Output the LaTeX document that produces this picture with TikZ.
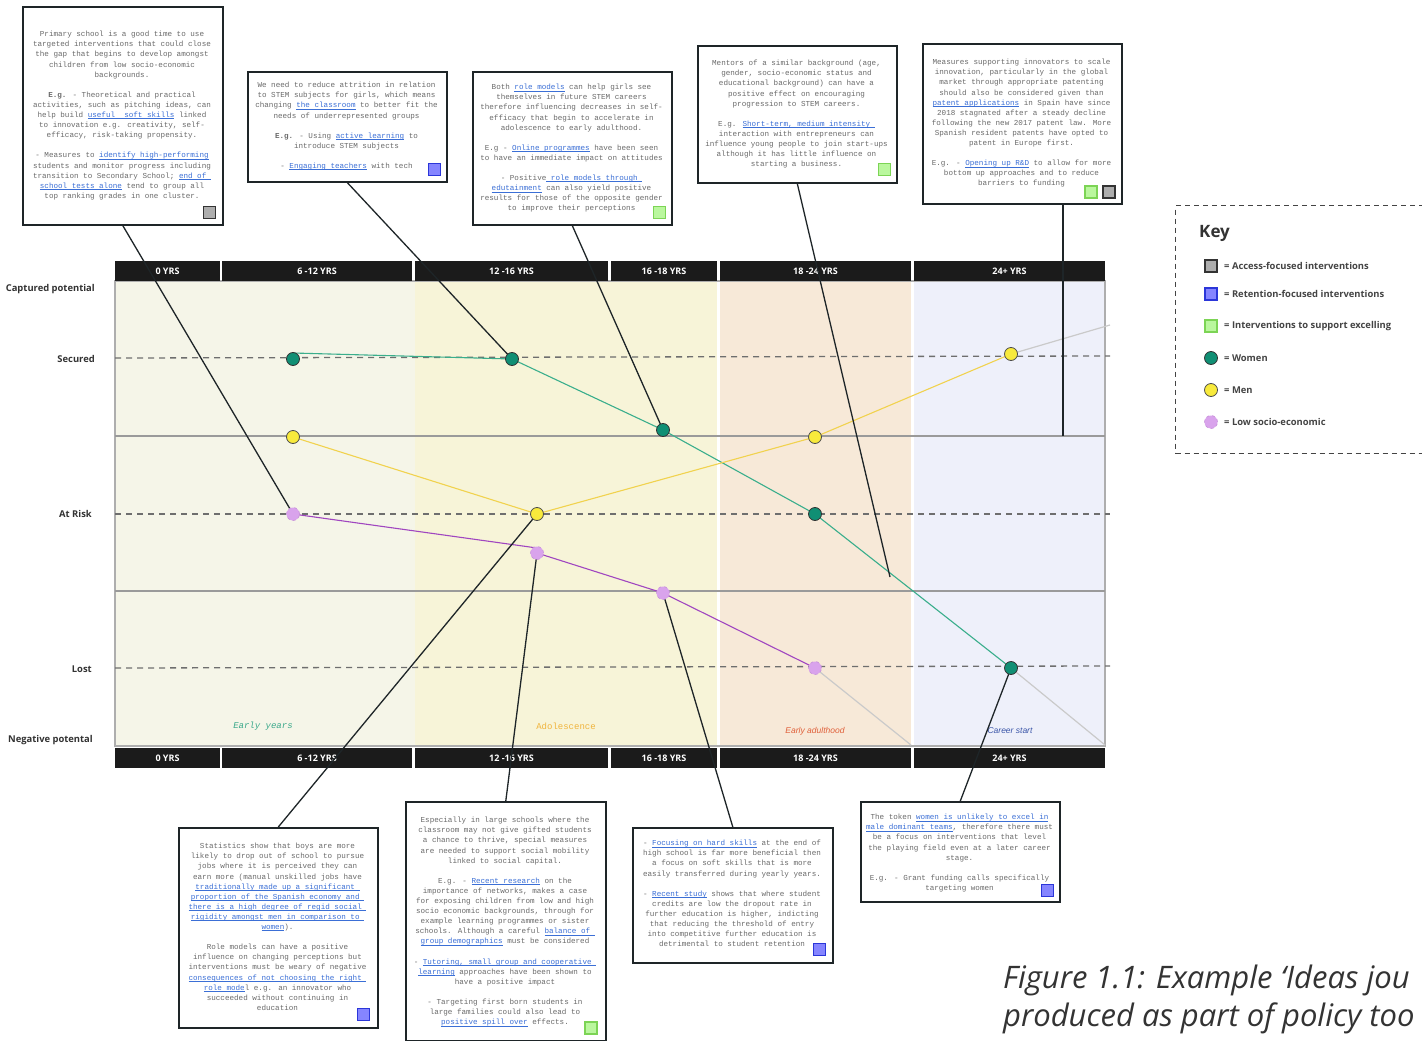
\documentclass[tikz,border=0pt]{standalone}
\usepackage{fontspec}
\setmainfont{Open Sans}
\newfontfamily\monof{Liberation Mono}
\newfontfamily\sanf{Open Sans}
\newfontfamily\narf{Liberation Sans}
\definecolor{boxline}{HTML}{1E2528}
\definecolor{txtgray}{HTML}{6A6A6A}
\definecolor{linkblue}{HTML}{3B6FD6}
\definecolor{hdrblack}{HTML}{1B1B1B}
\definecolor{zoneA}{HTML}{F5F5E8}
\definecolor{zoneB}{HTML}{F7F4D8}
\definecolor{zoneC}{HTML}{F7E9D8}
\definecolor{zoneD}{HTML}{EEF0FA}
\definecolor{gridgray}{HTML}{9A9A9A}
\definecolor{dashgray}{HTML}{6E6E6E}
\definecolor{womencol}{HTML}{108F74}
\definecolor{womenline}{HTML}{3AAE8C}
\definecolor{mencol}{HTML}{F8EA3C}
\definecolor{menline}{HTML}{F1D24E}
\definecolor{lowcol}{HTML}{D9A3EC}
\definecolor{lowline}{HTML}{A046C0}
\definecolor{fadeline}{HTML}{CACACA}
\definecolor{sqgrayf}{HTML}{ADADAD}
\definecolor{sqgrayd}{HTML}{333333}
\definecolor{sqbluef}{HTML}{8585FF}
\definecolor{sqblued}{HTML}{2B36D9}
\definecolor{sqgreenf}{HTML}{BAF79E}
\definecolor{sqgreend}{HTML}{7CD455}
\definecolor{lblcol}{HTML}{333333}
\definecolor{earlycol}{HTML}{3AA88A}
\definecolor{adolcol}{HTML}{F0B43C}
\definecolor{adultcol}{HTML}{E0603A}
\definecolor{careercol}{HTML}{3A55A8}
\definecolor{keycol}{HTML}{444444}
\newcommand\lnk[1]{\textcolor{linkblue}{\setbox0\hbox{#1}\rlap{\rule[-1.3pt]{\wd0}{0.5pt}}\box0}}
\newcommand\boxfont{\monof\fontsize{7.6}{10.1}\selectfont}
\tikzset{
  tbox/.style={draw=boxline, line width=1.6pt, fill=white, anchor=north west, inner sep=0},
  ttext/.style={font=\boxfont, text=txtgray, align=center, anchor=north, inner sep=0},
  sqg/.style={draw=sqgrayd, fill=sqgrayf, line width=1.3pt, minimum size=12pt, inner sep=0},
  sqb/.style={draw=sqblued, fill=sqbluef, line width=1.3pt, minimum size=12pt, inner sep=0},
  sqn/.style={draw=sqgreend, fill=sqgreenf, line width=1.3pt, minimum size=12pt, inner sep=0},
  hdr/.style={fill=hdrblack, text=white, font=\sanf\bfseries\fontsize{9}{10}\selectfont, minimum height=20pt, inner sep=0},
  lbl/.style={anchor=east, text=lblcol, font=\sanf\bfseries\fontsize{9.4}{11}\selectfont, inner sep=0},
  wdot/.style={circle, draw=black!80, fill=womencol, line width=0.8pt, minimum size=13pt, inner sep=0},
  mdot/.style={circle, draw=black!70, fill=mencol, line width=0.8pt, minimum size=13pt, inner sep=0},
  ldot/.style={circle, draw=lowline!60, dashed, fill=lowcol, line width=0.6pt, minimum size=13pt, inner sep=0},
  callout/.style={draw=boxline, line width=1.3pt},
  keytxt/.style={anchor=west, text=keycol, font=\sanf\bfseries\fontsize{9.4}{11}\selectfont, inner sep=0},
}
\begin{document}
\begin{tikzpicture}[x=1pt, y=-1pt]
\useasboundingbox (0,0) rectangle (1422,1041);
\clip (0,0) rectangle (1422,1041);
\fill[white] (0,0) rectangle (1422,1041);

% zones
\fill[zoneA] (115,281) rectangle (415,746);
\fill[zoneB] (415,281) rectangle (717,746);
\fill[zoneC] (720,281) rectangle (911,746);
\fill[zoneD] (914,281) rectangle (1105,746);
\draw[gridgray!80, line width=1.4pt] (115,281) rectangle (1105,746);

% grid
\draw[gridgray, line width=1.3pt] (115,436) -- (1105,436);
\draw[gridgray, line width=1.3pt] (115,591) -- (1105,591);
\draw[dashgray, line width=1.3pt, dash pattern=on 6pt off 5pt] (115,358) -- (1110,356);
\draw[dashgray, line width=1.3pt, dash pattern=on 6pt off 5pt] (115,514) -- (1110,514);
\draw[dashgray, line width=1.3pt, dash pattern=on 6pt off 5pt] (115,668) -- (1110,666);

% left labels
\node[lbl] (lcap) at (95,289) {Captured potential};
\node[lbl] (lsec) at (95,359) {Secured};
\node[lbl] (lrisk) at (92,514) {At Risk};
\node[lbl] (llost) at (92,669) {Lost};
\node[lbl] (lneg) at (93,740) {Negative potental};

% zone labels
\node[text=earlycol, font=\monof\itshape\fontsize{9}{10}\selectfont] (zA) at (263,726) {Early years};
\node[text=adolcol, font=\monof\fontsize{9}{10}\selectfont] (zB) at (566,726) {Adolescence};
\node[text=adultcol, font=\narf\itshape\fontsize{8.5}{10}\selectfont] (zC) at (815,731) {Early adulthood};
\node[text=careercol, font=\narf\itshape\fontsize{8.5}{10}\selectfont] (zD) at (1010,731) {Career start};

% headers
\node[hdr, minimum width=105pt] (ht1) at (167.5,271) {0 YRS};
\node[hdr, minimum width=190pt] (ht2) at (317,271) {6 -12 YRS};
\node[hdr, minimum width=193pt] (ht3) at (511.5,271) {12 -16 YRS};
\node[hdr, minimum width=106pt] (ht4) at (664,271) {16 -18 YRS};
\node[hdr, minimum width=191pt] (ht5) at (815.5,271) {18 -24 YRS};
\node[hdr, minimum width=191pt] (ht6) at (1009.5,271) {24+ YRS};
\node[hdr, minimum width=105pt] (hb1) at (167.5,758) {0 YRS};
\node[hdr, minimum width=190pt] (hb2) at (317,758) {6 -12 YRS};
\node[hdr, minimum width=193pt] (hb3) at (511.5,758) {12 -16 YRS};
\node[hdr, minimum width=106pt] (hb4) at (664,758) {16 -18 YRS};
\node[hdr, minimum width=191pt] (hb5) at (815.5,758) {18 -24 YRS};
\node[hdr, minimum width=191pt] (hb6) at (1009.5,758) {24+ YRS};

% dot coordinates
\coordinate (w1) at (293,359);
\coordinate (w2) at (512,359);
\coordinate (w3) at (663,430);
\coordinate (w4) at (815,514);
\coordinate (w5) at (1011,668);
\coordinate (m1) at (293,437);
\coordinate (m2) at (537,514);
\coordinate (m3) at (815,437);
\coordinate (m4) at (1011,354);
\coordinate (p1) at (293,514);
\coordinate (p2) at (537,553);
\coordinate (p3) at (663,593);
\coordinate (p4) at (815,668);
\coordinate (wend) at (1105,745);
\coordinate (mend) at (1110,325);
\coordinate (pend) at (911,745);

% trajectories
\draw[fadeline, line width=1.2pt] (w5) -- (wend);
\draw[fadeline, line width=1.2pt] (m4) -- (mend);
\draw[fadeline, line width=1.2pt] (p4) -- (pend);
\draw[womenline, line width=1.1pt] (293,353) -- (w2) -- (w3) -- (w4) -- (w5);
\draw[menline, line width=1.1pt] (m1) -- (m2) -- (m3) -- (m4);
\draw[lowline, line width=1.1pt] (p1) -- (537,548) -- (p2) -- (p3) -- (p4);

% text boxes
\node[tbox, minimum width=200pt, minimum height=218pt] (b1) at (22,6) {};
\node[tbox, minimum width=199pt, minimum height=110pt] (b2) at (247,71) {};
\node[tbox, minimum width=199pt, minimum height=153pt] (b3) at (472,71) {};
\node[tbox, minimum width=199pt, minimum height=137pt] (b4) at (697,45) {};
\node[tbox, minimum width=199pt, minimum height=160pt] (b5) at (922,43) {};
\node[tbox, minimum width=199pt, minimum height=200pt] (b6) at (178,827) {};
\node[tbox, minimum width=200pt, minimum height=239pt] (b7) at (405,801) {};
\node[tbox, minimum width=200pt, minimum height=135pt] (b8) at (632,827) {};
\node[tbox, minimum width=199pt, minimum height=100pt] (b9) at (860,801) {};

% callouts
\coordinate (c4) at (890,577);
\coordinate (c5) at (1063,436);
\draw[callout] (b1.south) -- (p1);
\draw[callout] (b2.south) -- (w2);
\draw[callout] (b3.south) -- (w3);
\draw[callout] (b4.south) -- (c4);
\draw[callout] (b5.south -| c5) -- (c5);
\draw[callout] (b6.north) -- (m2);
\draw[callout] (b7.north) -- (p2);
\draw[callout] (b8.north) -- (p3);
\draw[callout] (b9.north) -- (w5);

% dots
\node[wdot] (nw1) at (w1) {};
\node[wdot] (nw2) at (w2) {};
\node[wdot] (nw3) at (w3) {};
\node[wdot] (nw4) at (w4) {};
\node[wdot] (nw5) at (w5) {};
\node[mdot] (nm1) at (m1) {};
\node[mdot] (nm2) at (m2) {};
\node[mdot] (nm3) at (m3) {};
\node[mdot] (nm4) at (m4) {};
\node[ldot] (np1) at (p1) {};
\node[ldot] (np2) at (p2) {};
\node[ldot] (np3) at (p3) {};
\node[ldot] (np4) at (p4) {};

% box texts
\node[ttext] (t1) at (122,31) {Primary school is a good time to use\\
targeted interventions that could close\\
the gap that begins to develop amongst\\
children from low socio-economic\\
backgrounds.\\[10.1pt]
\textbf{E.g.} - Theoretical and practical\\
activities, such as pitching ideas, can\\
help build \lnk{useful\ \ soft skills} linked\\
to innovation e.g. creativity, self-\\
efficacy, risk-taking propensity.\\[10.1pt]
- Measures to \lnk{identify high-performing}\\
students and monitor progress including\\
transition to Secondary School; \lnk{end of }\\
\lnk{school tests alone} tend to group all\\
top ranking grades in one cluster.};
\node[sqg] (s1) at (209.5,212.5) {};

\node[ttext] (t2) at (346.5,82) {We need to reduce attrition in relation\\
to STEM subjects for girls, which means\\
changing \lnk{the classroom} to better fit the\\
needs of underrepresented groups\\[10.1pt]
\textbf{E.g.} - Using \lnk{active learning} to\\
introduce STEM subjects\\[10.1pt]
- \lnk{Engaging teachers} with tech};
\node[sqb] (s2) at (434.5,169.5) {};

\node[ttext] (t3) at (571.5,84) {Both \lnk{role models} can help girls see\\
themselves in future STEM careers\\
therefore influencing decreases in self-\\
efficacy that begin to accelerate in\\
adolescence to early adulthood.\\[10.1pt]
E.g - \lnk{Online programmes} have been seen\\
to have an immediate impact on attitudes\\[10.1pt]
- Positive\lnk{ role models through }\\
\lnk{edutainment} can also yield positive\\
results for those of the opposite gender\\
to improve their perceptions};
\node[sqn] (s3) at (659.5,212.5) {};

\node[ttext] (t4) at (796.5,60) {Mentors of a similar background (age,\\
gender, socio-economic status and\\
educational background) can have a\\
positive effect on encouraging\\
progression to STEM careers.\\[10.1pt]
E.g. \lnk{Short-term, medium intensity }\\
interaction with entrepreneurs can\\
influence young people to join start-ups\\
although it has little influence on\\
starting a business.};
\node[sqn] (s4) at (884.5,169.5) {};

\node[ttext] (t5) at (1021.5,59) {Measures supporting innovators to scale\\
innovation, particularly in the global\\
market through appropriate patenting\\
should also be considered given than\\
\lnk{patent applications} in Spain have since\\
2018 stagnated after a steady decline\\
following the new 2017 patent law. More\\
Spanish resident patents have opted to\\
patent in Europe first.\\[10.1pt]
E.g. - \lnk{Opening up R\&D} to allow for more\\
bottom up approaches and to reduce\\
barriers to funding};
\node[sqn] (s5a) at (1091,192) {};
\node[sqg] (s5b) at (1109,192) {};

\node[ttext] (t6) at (277.5,843) {Statistics show that boys are more\\
likely to drop out of school to pursue\\
jobs where it is perceived they can\\
earn more (manual unskilled jobs have\\
\lnk{traditionally made up a significant }\\
\lnk{proportion of the Spanish economy and }\\
\lnk{there is a high degree of regid social }\\
\lnk{rigidity amongst men in comparison to }\\
\lnk{women}).\\[10.1pt]
Role models can have a positive\\
influence on changing perceptions but\\
interventions must be weary of negative\\
\lnk{consequences of not choosing the right }\\
\lnk{role mode}l e.g. an innovator who\\
succeeded without continuing in\\
education};
\node[sqb] (s6) at (363.5,1014.5) {};

\node[ttext] (t7) at (505,817) {Especially in large schools where the\\
classroom may not give gifted students\\
a chance to thrive, special measures\\
are needed to support social mobility\\
linked to social capital.\\[10.1pt]
E.g. - \lnk{Recent research} on the\\
importance of networks, makes a case\\
for exposing children from low and high\\
socio economic backgrounds, through for\\
example learning programmes or sister\\
schools. Although a careful \lnk{balance of }\\
\lnk{group demographics} must be considered\\[10.1pt]
- \lnk{Tutoring, small group and cooperative }\\
\lnk{learning} approaches have been shown to\\
have a positive impact\\[10.1pt]
- Targeting first born students in\\
large families could also lead to\\
\lnk{positive spill over} effects.};
\node[sqn] (s7) at (591,1028) {};

\node[ttext] (t8) at (732,840) {- \lnk{Focusing on hard skills} at the end of\\
high school is far more beneficial then\\
a focus on soft skills that is more\\
easily transferred during yearly years.\\[10.1pt]
- \lnk{Recent study} shows that where student\\
credits are low the dropout rate in\\
further education is higher, indicting\\
that reducing the threshold of entry\\
into competitive further education is\\
detrimental to student retention};
\node[sqb] (s8) at (819.5,949.5) {};

\node[ttext] (t9) at (959.5,814) {The token \lnk{women is unlikely to excel in}\\
\lnk{male dominant teams}, therefore there must\\
be a focus on interventions that level\\
the playing field even at a later career\\
stage.\\[10.1pt]
E.g. - Grant funding calls specifically\\
targeting women};
\node[sqb] (s9) at (1047.5,890.5) {};

% key
\node[draw=keycol, line width=1.3pt, dash pattern=on 5pt off 4pt, anchor=north west, minimum width=270pt, minimum height=248pt, inner sep=0] (keybox) at (1175,205) {};
\node[anchor=west, text=lblcol, font=\sanf\bfseries\fontsize{17}{20}\selectfont, inner sep=0] (keyt) at (1199,233) {Key};
\node[sqg] (k1) at (1211,266) {};
\node[sqb] (k2) at (1211,294) {};
\node[sqn] (k3) at (1211,326) {};
\node[wdot] (k4) at (1211,358) {};
\node[mdot] (k5) at (1211,390) {};
\node[ldot] (k6) at (1211,422) {};
\node[keytxt] (kt1) at (1224,266) {= Access-focused interventions};
\node[keytxt] (kt2) at (1224,294) {= Retention-focused interventions};
\node[keytxt] (kt3) at (1224,326) {= Interventions to support excelling};
\node[keytxt] (kt4) at (1224,358) {= Women};
\node[keytxt] (kt5) at (1224,390) {= Men};
\node[keytxt] (kt6) at (1224,422) {= Low socio-economic};

% caption
\node[anchor=base west, text=lblcol, font=\sanf\itshape\fontsize{31}{36}\selectfont, inner sep=0] (cap1) at (1003,988) {Figure 1.1: Example ‘Ideas jou};
\node[anchor=base west, text=lblcol, font=\sanf\itshape\fontsize{31}{36}\selectfont, inner sep=0] (cap2) at (1003,1026) {produced as part of policy too};
\end{tikzpicture}
\end{document}
